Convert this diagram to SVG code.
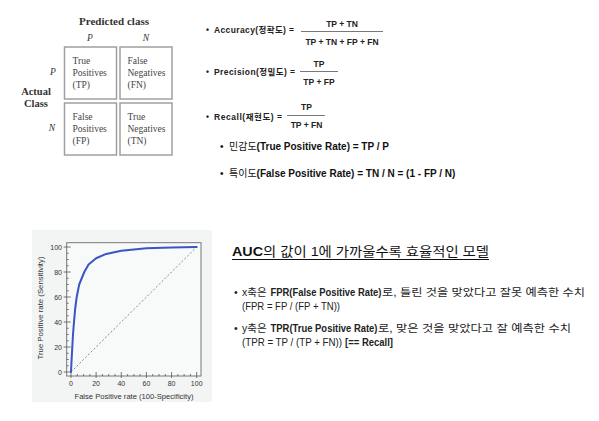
<svg xmlns="http://www.w3.org/2000/svg" width="599" height="421" viewBox="0 0 599 421">
<style>
.serif{font-family:"Liberation Serif","DejaVu Serif",serif;fill:#333}
.cell{fill:none;stroke:#a0a0a0;stroke-width:1.5}
.ct{font-family:"Liberation Serif","DejaVu Serif",serif;font-size:9.5px;fill:#444}
.f{font-family:"Liberation Sans","Noto Sans CJK KR",sans-serif;font-size:8.5px;font-weight:bold;fill:#222}
.fm{text-anchor:middle}
.fl{stroke:#555;stroke-width:0.8}
.b10{font-family:"Liberation Sans","Noto Sans CJK KR",sans-serif;font-size:10px;fill:#111}
.title{font-family:"Liberation Sans","Noto Sans CJK KR",sans-serif;font-size:13px;fill:#111}
.nt{font-family:"Liberation Sans","Noto Sans CJK KR",sans-serif;font-size:10.5px;fill:#222}
.kb{font-weight:bold}
.tick{font-family:"Liberation Sans",Arial,sans-serif;font-size:7px;fill:#333}
.axt{font-family:"Liberation Sans",Arial,sans-serif;font-size:7.5px;fill:#333}
.ax{stroke:#555;stroke-width:0.8}
</style>
<rect width="599" height="421" fill="#ffffff"/>

<g id="confusion-matrix">
  <text class="serif" x="114" y="25" font-size="10.5" font-weight="bold" text-anchor="middle" textLength="70" lengthAdjust="spacingAndGlyphs">Predicted class</text>
  <text class="serif" x="90" y="41" font-size="9.5" font-style="italic" text-anchor="middle">P</text>
  <text class="serif" x="146" y="41" font-size="9.5" font-style="italic" text-anchor="middle">N</text>
  <text class="serif" x="53" y="75" font-size="9.5" font-style="italic" text-anchor="middle">P</text>
  <text class="serif" x="52" y="131" font-size="9.5" font-style="italic" text-anchor="middle">N</text>
  <text class="serif" x="36" y="95" font-size="10.5" font-weight="bold" text-anchor="middle">Actual</text>
  <text class="serif" x="36" y="107" font-size="10.5" font-weight="bold" text-anchor="middle">Class</text>
  <g id="cell-tp">
    <rect class="cell" x="64.5" y="47" width="52" height="52"/>
    <text class="ct" x="72.5" y="64">True</text>
    <text class="ct" x="72.5" y="76">Positives</text>
    <text class="ct" x="72.5" y="87.5">(TP)</text>
  </g>
  <g id="cell-fn">
    <rect class="cell" x="120" y="47" width="52" height="52"/>
    <text class="ct" x="127.5" y="64">False</text>
    <text class="ct" x="127.5" y="76">Negatives</text>
    <text class="ct" x="127.5" y="87.5">(FN)</text>
  </g>
  <g id="cell-fp">
    <rect class="cell" x="64.5" y="103" width="52" height="52"/>
    <text class="ct" x="72.5" y="120">False</text>
    <text class="ct" x="72.5" y="132">Positives</text>
    <text class="ct" x="72.5" y="143.5">(FP)</text>
  </g>
  <g id="cell-tn">
    <rect class="cell" x="120" y="103" width="52" height="52"/>
    <text class="ct" x="127.5" y="120">True</text>
    <text class="ct" x="127.5" y="132">Negatives</text>
    <text class="ct" x="127.5" y="143.5">(TN)</text>
  </g>
</g>

<g id="formulas">
  <g id="accuracy">
    <text class="f" x="206" y="33">•</text>
    <text class="f" x="214" y="33" textLength="80" lengthAdjust="spacing">Accuracy(정확도) =</text>
    <text class="f fm" x="342" y="27">TP + TN</text>
    <line class="fl" x1="301" y1="31.5" x2="383" y2="31.5"/>
    <text class="f fm" x="342" y="45">TP + TN + FP + FN</text>
  </g>
  <g id="precision">
    <text class="f" x="206" y="75">•</text>
    <text class="f" x="214" y="75" textLength="81" lengthAdjust="spacing">Precision(정밀도) =</text>
    <text class="f fm" x="319" y="67">TP</text>
    <line class="fl" x1="300" y1="71.5" x2="338" y2="71.5"/>
    <text class="f fm" x="319" y="85">TP + FP</text>
  </g>
  <g id="recall">
    <text class="f" x="206" y="120">•</text>
    <text class="f" x="214" y="120" textLength="68" lengthAdjust="spacing">Recall(재현도) =</text>
    <text class="f fm" x="306.5" y="110">TP</text>
    <line class="fl" x1="287" y1="115.5" x2="325" y2="115.5"/>
    <text class="f fm" x="306.5" y="128">TP + FN</text>
  </g>
  <g id="sensitivity">
    <text class="b10" x="220" y="150">•</text>
    <text class="b10" x="229" y="150">민감도<tspan class="kb">(True Positive Rate) = TP / P</tspan></text>
  </g>
  <g id="specificity">
    <text class="b10" x="220" y="177">•</text>
    <text class="b10" x="229" y="177">특이도<tspan class="kb">(False Positive Rate) = TN / N = (1 - FP / N)</tspan></text>
  </g>
</g>

<g id="roc-chart">
  <rect x="32" y="230" width="180" height="172" fill="#f3f4f4"/>
  <rect x="66.7" y="242.7" width="134.3" height="133.3" fill="#f8f9f9" stroke="#777" stroke-width="1"/>
  <g id="x-ticks" class="ax">
    <path d="M71,376v-4M77.3,376v-2M83.6,376v-2M89.9,376v-2M96.1,376v-4M102.4,376v-2M108.7,376v-2M115,376v-2M121.3,376v-4M127.6,376v-2M133.9,376v-2M140.1,376v-2M146.4,376v-4M152.7,376v-2M159,376v-2M165.3,376v-2M171.6,376v-4M177.8,376v-2M184.1,376v-2M190.4,376v-2M196.7,376v-4"/>
    <path d="M71,376v2M96.1,376v2M121.3,376v2M146.4,376v2M171.6,376v2M196.7,376v2"/>
  </g>
  <g id="y-ticks" class="ax">
    <path d="M66.7,372h4M66.7,365.75h2M66.7,359.5h2M66.7,353.25h2M66.7,347h4M66.7,340.75h2M66.7,334.5h2M66.7,328.25h2M66.7,322h4M66.7,315.75h2M66.7,309.5h2M66.7,303.25h2M66.7,297h4M66.7,290.75h2M66.7,284.5h2M66.7,278.25h2M66.7,272h4M66.7,265.75h2M66.7,259.5h2M66.7,253.25h2M66.7,247h4"/>
    <path d="M66.7,372h-3M66.7,347h-3M66.7,322h-3M66.7,297h-3M66.7,272h-3M66.7,247h-3"/>
  </g>
  <g id="y-labels" class="tick" text-anchor="end">
    <text x="62" y="374.5">0</text>
    <text x="62" y="349.5">20</text>
    <text x="62" y="324.5">40</text>
    <text x="62" y="299.5">60</text>
    <text x="62" y="274.5">80</text>
    <text x="62" y="249.5">100</text>
  </g>
  <g id="x-labels" class="tick" text-anchor="middle">
    <text x="71" y="386">0</text>
    <text x="96.1" y="386">20</text>
    <text x="121.3" y="386">40</text>
    <text x="146.4" y="386">60</text>
    <text x="171.6" y="386">80</text>
    <text x="196.7" y="386">100</text>
  </g>
  <line x1="71" y1="372" x2="196.7" y2="247" stroke="#888" stroke-width="1" stroke-dasharray="2,2"/>
  <polyline fill="none" stroke="#3a55c4" stroke-width="2" stroke-linejoin="round" stroke-linecap="round" points="71,372 71.6,359.5 72.3,347 73,334.5 74,322 75.1,309.5 76.7,297 79.2,284.5 84.3,272 88.6,264.5 96.1,258.25 106.2,253.9 121.3,250.75 146.4,248.25 171.6,247.5 196.7,247"/>
  <text class="axt" x="134" y="399" text-anchor="middle" textLength="119" lengthAdjust="spacingAndGlyphs">False Positive rate (100-Specificity)</text>
  <text class="axt" transform="translate(42.5,308) rotate(-90)" text-anchor="middle" textLength="103" lengthAdjust="spacingAndGlyphs">True Positive rate (Sensitivity)</text>
</g>

<g id="auc-notes">
  <text class="title" x="232" y="256" textLength="257" lengthAdjust="spacingAndGlyphs"><tspan class="kb">AUC</tspan>의 값이 1에 가까울수록 효율적인 모델</text>
  <line x1="232" y1="259.5" x2="489" y2="259.5" stroke="#111" stroke-width="1.1"/>
  <g id="note-x">
    <text class="nt" x="234" y="296">•</text>
    <text class="nt" x="242" y="296">x축은</text>
    <text class="nt kb" x="270.5" y="296" textLength="111" lengthAdjust="spacingAndGlyphs">FPR(False Positive Rate)</text>
    <text class="nt" x="382" y="296" textLength="203" lengthAdjust="spacingAndGlyphs">로, 틀린 것을 맞았다고 잘못 예측한 수치</text>
    <text class="nt" x="242" y="310" textLength="98" lengthAdjust="spacingAndGlyphs">(FPR = FP / (FP + TN))</text>
  </g>
  <g id="note-y">
    <text class="nt" x="234" y="332">•</text>
    <text class="nt" x="242" y="332">y축은</text>
    <text class="nt kb" x="270.5" y="332" textLength="107" lengthAdjust="spacingAndGlyphs">TPR(True Positive Rate)</text>
    <text class="nt" x="378" y="332" textLength="193" lengthAdjust="spacingAndGlyphs">로, 맞은 것을 맞았다고 잘 예측한 수치</text>
    <text class="nt" x="242" y="346" textLength="100" lengthAdjust="spacingAndGlyphs">(TPR = TP / (TP + FN))</text>
    <text class="nt kb" x="345" y="346" textLength="48" lengthAdjust="spacingAndGlyphs">[== Recall]</text>
  </g>
</g>
</svg>
